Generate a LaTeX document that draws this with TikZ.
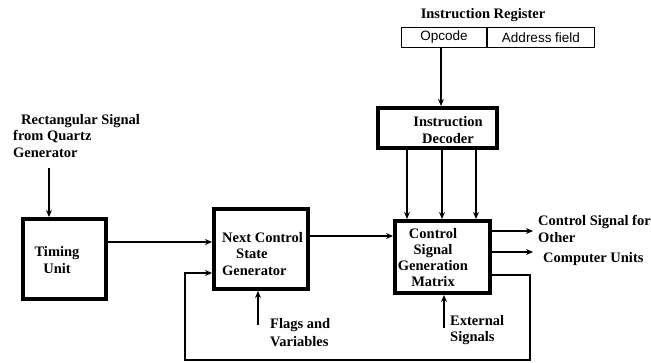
\documentclass[tikz,border=0pt]{standalone}
\usepackage{fontspec}
\setmainfont{Liberation Serif}
\newfontfamily\arialfont{Liberation Sans}
\usetikzlibrary{arrows.meta,calc}
\begin{document}
\begin{tikzpicture}[x=1pt,y=-1pt,
  font=\fontsize{14.5}{16.3}\selectfont\bfseries,
  thickbox/.style={draw, line width=4pt, inner sep=0pt},
  thinbox/.style={draw, line width=1.2pt, inner sep=0pt, minimum height=20pt, font=\arialfont\fontsize{13.5}{15}\selectfont},
  txt/.style={inner sep=0pt, align=center},
  ltxt/.style={inner sep=0pt, align=left, anchor=west},
  conn/.style={line width=1.4pt},
  arr/.style={conn, -{Stealth[length=7pt,width=6pt]}}]
\useasboundingbox (0,0) rectangle (651,363);
% register
\node[txt] (irl) at (483,15) {Instruction Register};
\node[thinbox, minimum width=85pt] (opc) at (444,37.5) {Opcode};
\node[thinbox, minimum width=107pt] (adr) at (541,37.5) {Address field};
% boxes
\node[thickbox, minimum width=119pt, minimum height=40pt] (dec) at (437.5,128) {};
\node[txt] at (448,130) {Instruction\\Decoder};
\node[thickbox, minimum width=83pt, minimum height=80pt] (tim) at (64.5,259) {};
\node[txt] at (57,260) {Timing\\Unit};
\node[thickbox, minimum width=94pt, minimum height=80pt] (nc) at (261,249) {};
\node[ltxt] at (222,254) {Next Control\\\hspace*{14pt}State\\Generator};
\node[thickbox, minimum width=95pt, minimum height=72pt] (csg) at (442.5,257) {};
\node[txt] at (433,257.5) {Control\\Signal\\Generation\\Matrix};
% labels
\node[ltxt] (qz) at (13,136) {\hspace*{8pt}Rectangular Signal\\from Quartz\\Generator};
\node[ltxt, font=\fontsize{14.5}{18}\selectfont\bfseries] (fl) at (270,333) {Flags and\\Variables};
\node[ltxt] (ex) at (450,330) {External\\Signals};
\node[ltxt] (o1) at (538,229) {Control Signal for\\Other};
\node[ltxt] (o2) at (543,259) {Computer Units};
% coordinates
\coordinate (qs) at (49,168);
\coordinate (fs) at (258,325);
\coordinate (es) at (444,328);
\coordinate (d1) at (407,0);
\coordinate (d2) at (442,0);
\coordinate (d3) at (476,0);
\coordinate (xr) at (441,0);
\coordinate (ya) at (0,242);
\coordinate (yb) at (0,236);
\coordinate (yc) at (0,231);
\coordinate (yd) at (0,252);
\coordinate (fb1) at (530,275);
\coordinate (fb2) at (530,360);
\coordinate (fb3) at (185,360);
\coordinate (fb4) at (185,273);
\coordinate (xo) at (533,0);
% connectors
\draw[arr] (opc.south -| xr) -- (dec.north -| xr);
\draw[arr] (dec.south -| d1) -- (csg.north -| d1);
\draw[arr] (dec.south -| d2) -- (csg.north -| d2);
\draw[arr] (dec.south -| d3) -- (csg.north -| d3);
\draw[arr] (qs) -- (tim.north -| qs);
\draw[arr] (tim.east |- ya) -- (nc.west |- ya);
\draw[arr] (nc.east |- yb) -- (csg.west |- yb);
\draw[arr] (csg.east |- fb1) -- (fb1) -- (fb2) -- (fb3) -- (fb4) -- (nc.west |- fb4);
\draw[arr] (fs) -- (nc.south -| fs);
\draw[arr] (es) -- (csg.south -| es);
\draw[arr] (csg.east |- yc) -- (xo |- yc);
\draw[arr] (csg.east |- yd) -- (xo |- yd);
\end{tikzpicture}
\end{document}
